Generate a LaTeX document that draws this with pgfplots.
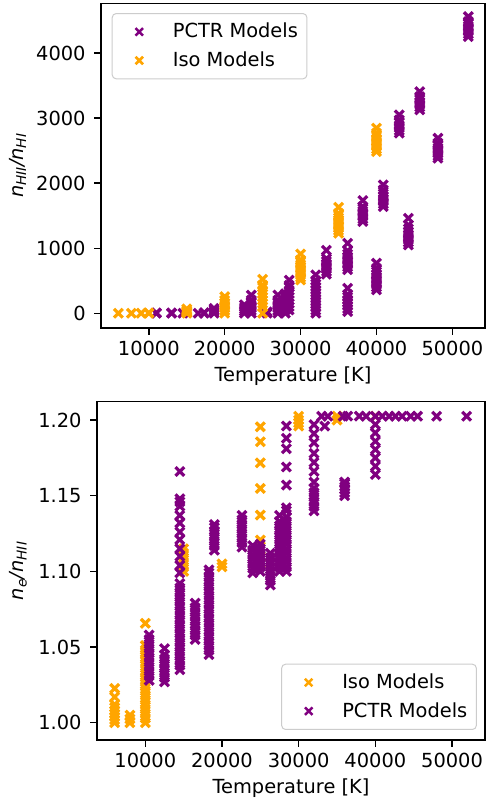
\documentclass[border=0pt]{standalone}
\usepackage{fontspec}
\setmainfont{DejaVu Sans}
\usepackage{pgfplots}
\pgfplotsset{compat=1.18}
\definecolor{pctr}{RGB}{128,0,128}
\definecolor{iso}{RGB}{255,165,0}
\definecolor{legframe}{RGB}{204,204,204}

\pgfplotsset{
  common/.style={
    scale only axis,
    xmin=3700, xmax=54300,
    scaled x ticks=false, scaled y ticks=false,
    xtick={10000,20000,30000,40000,50000},
    xticklabels={10000,20000,30000,40000,50000},
    tick align=outside, tick pos=left,
    major tick length=6.6pt,
    every tick/.style={black, line width=1.4pt},
    axis line style={black, line width=1.4pt},
    tick label style={inner sep=0pt},
    xticklabel style={yshift=-6.6pt},
    yticklabel style={xshift=-8.6pt},
    xlabel={Temperature [K]},
    xlabel style={at={(axis description cs:0.5,0)}, anchor=north, inner sep=0pt, yshift=-39pt},
    legend cell align=left,
    legend image code/.code={
      \draw[line width=0.1pt, draw opacity=0, fill opacity=0] (0pt,-1pt) -- (51.5pt,-1pt);
      \draw[##1, mark size=5.3pt, mark options={solid, line width=2.5pt}] plot[only marks] coordinates {(18pt,0pt)};
    },
    legend style={draw=legframe, line width=1pt, fill=white, fill opacity=0.8, text opacity=1,
      rounded corners=4pt, inner xsep=9pt, inner ysep=9.5pt, row sep=11pt,
      nodes={inner sep=0pt}},
  },
  sc/.style={only marks, mark=x, mark size=6.2pt, mark options={solid, line width=3.2pt}},
}

\begin{document}
\fontsize{19.4}{23.3}\selectfont
\begin{tikzpicture}
% ---------------- top axis ----------------
\begin{axis}[common,
  at={(101pt,474pt)}, anchor=south west,
  width=384pt, height=324.7pt,
  ymin=-227, ymax=4767,
  ytick={0,1000,2000,3000,4000},
  yticklabels={0,1000,2000,3000,4000},
  ylabel={\itshape n\textsubscript{HII}/n\textsubscript{HI}},
  ylabel style={at={(axis description cs:-0.2174,0.5)}, anchor=center},
  legend style={at={(0.0279,0.970)}, anchor=north west},
]
\addplot[sc, color=pctr] coordinates {
(11000,0) (11000,5) (13000,0) (13000,5) (14500,0) (16500,0)
(17300,0) (17300,8) (18600,0) (18600,25) (18600,50) (18600,75)
(22600,0) (22600,30) (22600,60) (22600,90) (22600,130)
(23500,0) (23500,40) (23500,80) (23500,120) (23500,160) (23500,200) (23500,280)
(25600,0) (25600,20)
(27000,0) (27000,40) (27000,80) (27000,120) (27000,160) (27000,200) (27000,280)
(28000,0) (28000,50) (28000,100) (28000,150) (28000,200) (28000,250) (28000,300)
(28500,50) (28500,100) (28500,150) (28500,200) (28500,250) (28500,300) (28500,350) (28500,400) (28500,430) (28500,510)
(32000,0) (32000,45) (32000,90) (32000,135) (32000,180) (32000,225) (32000,270) (32000,315) (32000,360) (32000,405) (32000,450) (32000,500) (32000,590)
(33400,600) (33400,640) (33400,680) (33400,720) (33400,760) (33400,800) (33400,840) (33400,970)
(36200,25) (36200,70) (36200,115) (36200,160) (36200,205) (36200,250) (36200,290) (36200,385)
(36200,670) (36200,710) (36200,750) (36200,790) (36200,830) (36200,870) (36200,910) (36200,960) (36200,1077)
(38200,1410) (38200,1450) (38200,1490) (38200,1530) (38200,1570) (38200,1610) (38200,1640) (38200,1733)
(40000,360) (40000,400) (40000,440) (40000,480) (40000,520) (40000,560) (40000,600) (40000,640) (40000,690) (40000,769)
(40900,1640) (40900,1680) (40900,1720) (40900,1760) (40900,1800) (40900,1840) (40900,1897) (40900,1974)
(43000,2770) (43000,2810) (43000,2850) (43000,2890) (43000,2930) (43000,2974) (43000,3050)
(44200,1050) (44200,1090) (44200,1130) (44200,1170) (44200,1210) (44200,1250) (44200,1300) (44200,1358) (44200,1461)
(45700,3128) (45700,3170) (45700,3210) (45700,3250) (45700,3290) (45700,3332) (45700,3409)
(48100,2384) (48100,2420) (48100,2460) (48100,2500) (48100,2540) (48100,2580) (48100,2615) (48100,2692)
(52100,4255) (52100,4295) (52100,4335) (52100,4375) (52100,4415) (52100,4455) (52100,4486) (52100,4563)
};
\addlegendentry{PCTR Models}
\addplot[sc, color=iso] coordinates {
(6000,0) (7700,0) (9000,0) (10000,0) (10000,5)
(15000,0) (15000,15) (15000,30) (15000,45) (15000,66)
(20000,0) (20000,40) (20000,80) (20000,120) (20000,160) (20000,200) (20000,256)
(25000,0)
(25000,100) (25000,150) (25000,200) (25000,250) (25000,300) (25000,350) (25000,400) (25000,435) (25000,523)
(30000,512) (30000,550) (30000,590) (30000,630) (30000,670) (30000,710) (30000,750) (30000,790) (30000,820) (30000,912)
(35000,1230) (35000,1270) (35000,1310) (35000,1350) (35000,1390) (35000,1430) (35000,1470) (35000,1510) (35000,1538) (35000,1630)
(40000,2486) (40000,2525) (40000,2565) (40000,2605) (40000,2645) (40000,2685) (40000,2725) (40000,2769) (40000,2846)
};
\addlegendentry{Iso Models}
\end{axis}
% ---------------- bottom axis ----------------
\begin{axis}[common,
  at={(97pt,62pt)}, anchor=south west,
  width=388pt, height=338.3pt,
  ymin=0.9886, ymax=1.2121,
  ytick={1.00,1.05,1.10,1.15,1.20},
  yticklabels={1.00,1.05,1.10,1.15,1.20},
  ylabel={\itshape n\textsubscript{e}/n\textsubscript{HII}},
  ylabel style={at={(axis description cs:-0.2036,0.5)}, anchor=center},
  legend style={at={(0.979,0.0296)}, anchor=south east},
]
\addplot[sc, color=iso] coordinates {
(6000,1.000) (6000,1.002) (6000,1.004) (6000,1.006) (6000,1.008) (6000,1.010) (6000,1.012) (6000,1.017) (6000,1.0227)
(8000,1.000) (8000,1.0025) (8000,1.005)
(10000,1.000) (10000,1.003) (10000,1.006) (10000,1.009) (10000,1.012) (10000,1.015) (10000,1.018) (10000,1.021) (10000,1.024)
(10000,1.027) (10000,1.030) (10000,1.033) (10000,1.036) (10000,1.039) (10000,1.042) (10000,1.045) (10000,1.048) (10000,1.051) (10000,1.0657)
(15000,1.100) (15000,1.103) (15000,1.106) (15000,1.109) (15000,1.112) (15000,1.115)
(20000,1.103) (20000,1.105)
(25000,1.105) (25000,1.110) (25000,1.1207) (25000,1.1372) (25000,1.1548) (25000,1.1717) (25000,1.1856) (25000,1.1955)
(30000,1.196) (30000,1.198) (30000,1.200) (30000,1.2025)
(35000,1.200) (35000,1.2025)
(40000,1.2025)
};
\addlegendentry{Iso Models}
\addplot[sc, color=pctr] coordinates {
(10500,1.028) (10500,1.031) (10500,1.034) (10500,1.037) (10500,1.040) (10500,1.043) (10500,1.046) (10500,1.049) (10500,1.052) (10500,1.055) (10500,1.058)
(12500,1.027) (12500,1.030) (12500,1.033) (12500,1.036) (12500,1.039) (12500,1.042) (12500,1.045) (12500,1.049)
(14500,1.035) (14500,1.038) (14500,1.041) (14500,1.044) (14500,1.047) (14500,1.050) (14500,1.053) (14500,1.056) (14500,1.059) (14500,1.062)
(14500,1.065) (14500,1.068) (14500,1.071) (14500,1.074) (14500,1.077) (14500,1.080) (14500,1.083) (14500,1.086) (14500,1.089) (14500,1.092)
(14500,1.099) (14500,1.104) (14500,1.110) (14500,1.115) (14500,1.121) (14500,1.126) (14500,1.132) (14500,1.137) (14500,1.143) (14500,1.146) (14500,1.148) (14500,1.166)
(16500,1.055) (16500,1.058) (16500,1.061) (16500,1.064) (16500,1.067) (16500,1.070) (16500,1.073) (16500,1.076) (16500,1.079)
(18300,1.045) (18300,1.048) (18300,1.051) (18300,1.054) (18300,1.057) (18300,1.060) (18300,1.063) (18300,1.066) (18300,1.069) (18300,1.072)
(18300,1.075) (18300,1.078) (18300,1.081) (18300,1.084) (18300,1.087) (18300,1.090) (18300,1.093) (18300,1.096) (18300,1.099) (18300,1.101)
(19000,1.114) (19000,1.117) (19000,1.120) (19000,1.123) (19000,1.126) (19000,1.129) (19000,1.131)
(22600,1.116) (22600,1.119) (22600,1.122) (22600,1.125) (22600,1.128) (22600,1.131) (22600,1.134) (22600,1.137)
(24000,1.099) (24000,1.102) (24000,1.105) (24000,1.108) (24000,1.111) (24000,1.114) (24000,1.117)
(25000,1.100) (25000,1.103) (25000,1.106) (25000,1.109) (25000,1.112) (25000,1.115) (25000,1.118)
(26300,1.091) (26300,1.094) (26300,1.097) (26300,1.100) (26300,1.103) (26300,1.106) (26300,1.109) (26300,1.112)
(27500,1.100) (27500,1.103) (27500,1.106) (27500,1.109) (27500,1.112) (27500,1.115) (27500,1.118) (27500,1.121) (27500,1.124) (27500,1.127) (27500,1.130) (27500,1.133) (27500,1.137)
(28400,1.100) (28400,1.103) (28400,1.106) (28400,1.109) (28400,1.112) (28400,1.115) (28400,1.118) (28400,1.121) (28400,1.124) (28400,1.127) (28400,1.130) (28400,1.133) (28400,1.136) (28400,1.140)
(28400,1.142) (28400,1.157) (28400,1.169) (28400,1.181) (28400,1.188) (28400,1.196)
(32000,1.140) (32000,1.143) (32000,1.146) (32000,1.149) (32000,1.152) (32000,1.155)
(32000,1.159) (32000,1.166) (32000,1.172) (32000,1.178) (32000,1.185) (32000,1.191) (32000,1.197)
(33400,1.196)
(36000,1.150) (36000,1.152) (36000,1.154) (36000,1.156) (36000,1.158) (36000,1.159)
(40000,1.197) (40000,1.1915) (40000,1.186) (40000,1.1805) (40000,1.175) (40000,1.1695) (40000,1.164)
(33000,1.2025) (33800,1.2025) (35800,1.2025) (36400,1.2025) (37900,1.2025) (38800,1.2025) (40000,1.2025) (40900,1.2025)
(41800,1.2025) (42600,1.2025) (43500,1.2025) (44600,1.2025) (45500,1.2025) (48000,1.2025) (51900,1.2025)
};
\addlegendentry{PCTR Models}
\end{axis}
\pgfresetboundingbox
\path (0pt,0pt) rectangle (486pt,802pt);
\end{tikzpicture}
\end{document}
